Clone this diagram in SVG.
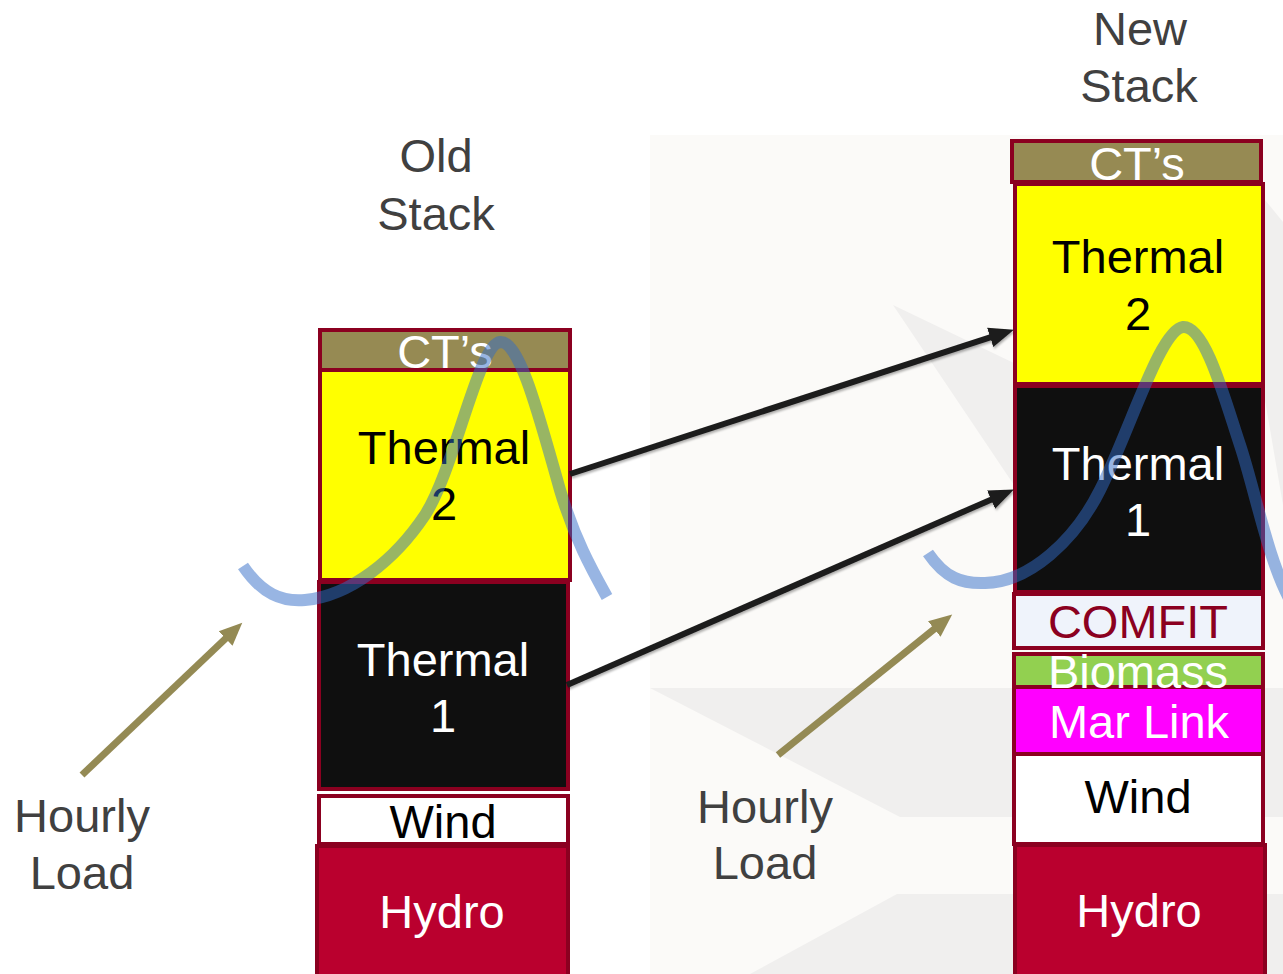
<svg xmlns="http://www.w3.org/2000/svg" width="1283" height="974" viewBox="0 0 1283 974">
<style>
.t{font-family:"Liberation Sans",Arial,sans-serif;font-size:47px;text-anchor:middle}
.w{fill:#ffffff}.k{fill:#000000}.g{fill:#404040}.r{fill:#8b0020}
.box{stroke:#8b0020;stroke-width:4}
.load{fill:none;stroke:rgb(50,108,200);stroke-opacity:0.5;stroke-width:12}
.blk{fill:none;stroke:#1c1c1c;stroke-width:6;filter:url(#sh)}
.olv{fill:none;stroke:#948a54;stroke-width:7}
</style>
<defs>
<filter id="sh" x="-10%" y="-50%" width="120%" height="200%"><feDropShadow dx="1" dy="2" stdDeviation="1.2" flood-color="#000" flood-opacity="0.3"/></filter>
<marker id="ab" markerUnits="userSpaceOnUse" markerWidth="26" markerHeight="22" refX="8" refY="11" orient="auto"><path d="M0,1 L25,11 L0,21 z" fill="#1c1c1c"/></marker>
<marker id="ao" markerUnits="userSpaceOnUse" markerWidth="24" markerHeight="22" refX="8" refY="11" orient="auto"><path d="M0,1 L23,11 L0,21 z" fill="#948a54"/></marker>
</defs>
<rect width="1283" height="974" fill="#ffffff"/>
<g id="background">
<rect x="650" y="135" width="633" height="839" fill="#fbfaf8"/>
<polygon points="893,305 1020,366 1020,494" fill="#f0efee"/>
<polygon points="1265,200 1283,222 1283,505 1265,400" fill="#f0efee"/>
<polygon points="650,688 1283,688 1283,817 900,817" fill="#f0efee"/>
<polygon points="897,894 1283,894 1283,974 750,974" fill="#f0efee"/>
</g>
<g id="labels">
<text class="t g" x="436" y="172">Old</text>
<text class="t g" x="436" y="230">Stack</text>
<text class="t g" x="1140" y="45">New</text>
<text class="t g" x="1139" y="102">Stack</text>
<text class="t g" x="82" y="832">Hourly</text>
<text class="t g" x="82" y="889">Load</text>
<text class="t g" x="765" y="823">Hourly</text>
<text class="t g" x="765" y="879">Load</text>
</g>
<g id="old-stack">
<g id="old-hydro"><rect class="box" x="317" y="846" width="251" height="140" fill="#ba002e"/><text class="t w" x="442" y="928">Hydro</text></g>
<g id="old-wind"><rect class="box" x="319" y="796" width="249" height="48" fill="#ffffff"/><text class="t k" x="443" y="838">Wind</text></g>
<g id="old-thermal1"><rect class="box" x="319" y="582" width="249" height="207" fill="#0f0f0f"/><text class="t w" x="443" y="676">Thermal</text><text class="t w" x="443" y="732">1</text></g>
<g id="old-thermal2"><rect class="box" x="320" y="370" width="250" height="210" fill="#ffff00"/><text class="t k" x="444" y="464">Thermal</text><text class="t k" x="444" y="520">2</text></g>
<g id="old-cts"><rect class="box" x="320" y="330" width="250" height="40" fill="#968a53"/><text class="t w" x="445" y="368">CT’s</text></g>
</g>
<g id="new-stack">
<g id="new-hydro"><rect class="box" x="1015" y="845" width="250" height="140" fill="#ba002e"/><text class="t w" x="1139" y="927">Hydro</text></g>
<g id="new-wind"><rect class="box" x="1014" y="754" width="249" height="90" fill="#ffffff"/><text class="t k" x="1138" y="813">Wind</text></g>
<g id="new-marlink"><rect class="box" x="1014" y="687" width="249" height="67" fill="#ff00ff"/><text class="t w" x="1139" y="738">Mar Link</text></g>
<g id="new-biomass"><rect class="box" x="1014" y="654" width="249" height="33" fill="#92d050"/><text class="t w" x="1138" y="688">Biomass</text></g>
<g id="new-comfit"><rect class="box" x="1014" y="594" width="249" height="54" fill="#eff3fb"/><text class="t r" x="1138" y="638">COMFIT</text></g>
<g id="new-thermal1"><rect class="box" x="1015" y="386" width="248" height="206" fill="#0f0f0f"/><text class="t w" x="1138" y="480">Thermal</text><text class="t w" x="1138" y="536">1</text></g>
<g id="new-thermal2"><rect class="box" x="1015" y="184" width="248" height="200" fill="#ffff00"/><text class="t k" x="1138" y="273">Thermal</text><text class="t k" x="1138" y="330">2</text></g>
<g id="new-cts"><rect class="box" x="1012" y="141" width="249" height="41" fill="#968a53"/><text class="t w" x="1137" y="180">CT’s</text></g>
</g>
<g id="connectors">
<line class="blk" x1="570" y1="474" x2="997.8" y2="334.9" marker-end="url(#ab)"/>
<line class="blk" x1="567" y1="685" x2="998.4" y2="496.4" marker-end="url(#ab)"/>
<line class="olv" x1="82" y1="775" x2="231.4" y2="633" marker-end="url(#ao)"/>
<line class="olv" x1="778" y1="755" x2="940.5" y2="624" marker-end="url(#ao)"/>
</g>
<g id="load-curves">
<path class="load" d="M243,566 C262,594 282,602 305,600 C350,596 395,560 425,515 C455,468 478,345 500,342 C520,340 540,420 560,490 C575,540 592,570 607,597"/>
<path class="load" d="M928,553 C945,578 962,584 985,583 C1030,582 1075,540 1100,490 C1130,430 1160,330 1183,327 C1205,325 1225,400 1240,445 C1255,490 1268,560 1290,600"/>
</g>
</svg>
